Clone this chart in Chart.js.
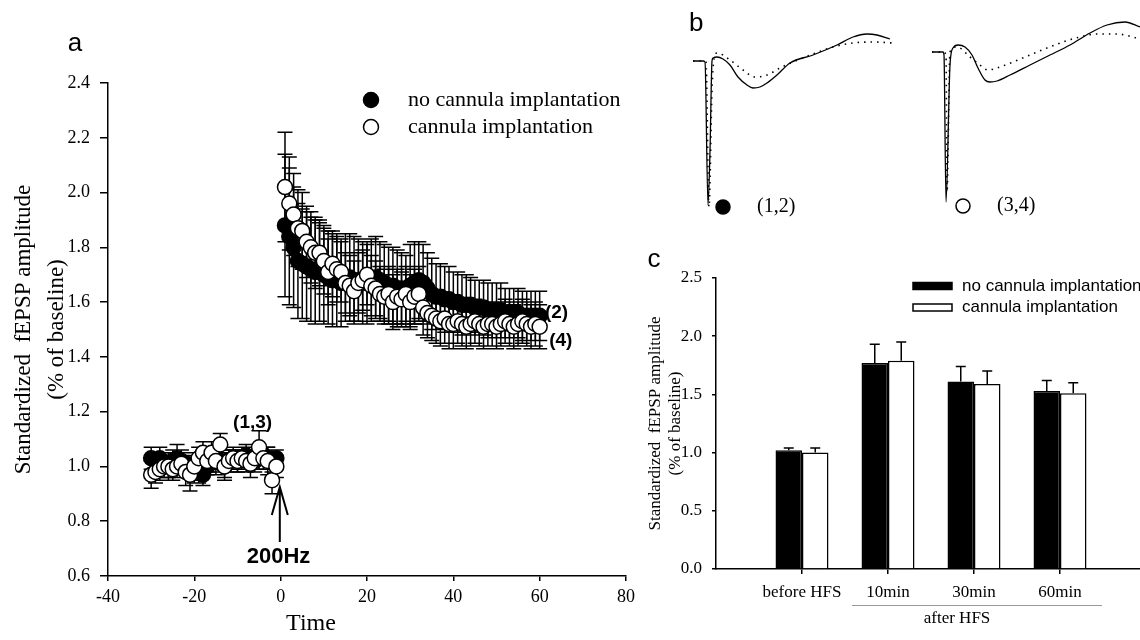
<!DOCTYPE html>
<html>
<head>
<meta charset="utf-8">
<script src="https://cdn.jsdelivr.net/npm/chart.js@4.4.1/dist/chart.umd.min.js"></script>
<style>
  html, body { margin: 0; padding: 0; background: #fff; }
  body { width: 1140px; height: 640px; position: relative; overflow: hidden; }
  canvas { position: absolute; }
  #chartA { left: 0; top: 0; }
  #traceL { left: 680px; top: 0; }
  #traceR { left: 920px; top: 0; }
  #chartC { left: 640px; top: 250px; }
</style>
</head>
<body>
<canvas id="chartA" width="640" height="640"></canvas>
<canvas id="traceL" width="240" height="232"></canvas>
<canvas id="traceR" width="220" height="232"></canvas>
<canvas id="chartC" width="520" height="390"></canvas>
<script>
// ---- panel a : time course (min) ----
const timeBefore = [-30, -29, -28, -27, -26, -25, -24, -23, -22, -21, -20, -19, -18, -17, -16,
  -15, -14, -13, -12, -11, -10, -9, -8, -7, -6, -5, -4, -3, -2, -1];
const timeAfter = [1, 2, 3, 4, 5, 6, 7, 8, 9, 10, 11, 12, 13, 14, 15, 16, 17, 18, 19, 20,
  21, 22, 23, 24, 25, 26, 27, 28, 29, 30, 31, 32, 33, 34, 35, 36, 37, 38, 39, 40,
  41, 42, 43, 44, 45, 46, 47, 48, 49, 50, 51, 52, 53, 54, 55, 56, 57, 58, 59, 60];

const noCannulaBefore = [1.03, 1.02, 1.03, 1.01, 1.00, 1.02, 1.03, 1.02, 1.01, 1.00,
  0.98, 0.99, 0.97, 1.00, 1.02, 1.03, 1.02, 1.00, 1.02, 1.03,
  1.02, 1.03, 1.04, 1.03, 1.02, 1.03, 1.04, 1.03, 1.02, 1.03];
const noCannulaBeforeErr = [0.04, 0.03, 0.04, 0.03, 0.04, 0.04, 0.05, 0.04, 0.03, 0.04,
  0.04, 0.05, 0.04, 0.03, 0.04, 0.04, 0.03, 0.04, 0.04, 0.03,
  0.04, 0.03, 0.04, 0.03, 0.04, 0.04, 0.03, 0.04, 0.04, 0.03];
const cannulaBefore = [0.97, 0.98, 0.99, 1.00, 1.00, 0.99, 1.00, 1.01, 0.98, 0.97,
  1.00, 1.03, 1.05, 1.02, 1.05, 1.02, 1.08, 1.00, 1.02, 1.03,
  1.02, 1.03, 1.02, 1.01, 1.03, 1.07, 1.03, 1.02, 0.95, 1.00];
const cannulaBeforeErr = [0.05, 0.04, 0.04, 0.04, 0.05, 0.04, 0.04, 0.04, 0.05, 0.06,
  0.05, 0.04, 0.04, 0.04, 0.04, 0.05, 0.04, 0.05, 0.04, 0.04,
  0.04, 0.04, 0.04, 0.05, 0.04, 0.06, 0.04, 0.05, 0.05, 0.04];

const noCannulaAfter = [1.88, 1.84, 1.80, 1.75, 1.74, 1.73, 1.72, 1.71, 1.71, 1.70,
  1.69, 1.68, 1.68, 1.67, 1.69, 1.69, 1.68, 1.68, 1.67, 1.67,
  1.68, 1.69, 1.68, 1.67, 1.66, 1.66, 1.65, 1.65, 1.64, 1.66,
  1.67, 1.68, 1.67, 1.65, 1.63, 1.62, 1.62, 1.61, 1.61, 1.60,
  1.60, 1.59, 1.59, 1.59, 1.58, 1.58, 1.58, 1.57, 1.57, 1.57,
  1.57, 1.56, 1.56, 1.56, 1.56, 1.55, 1.55, 1.55, 1.55, 1.55];
const noCannulaAfterErr = [0.26, 0.25, 0.22, 0.21, 0.20, 0.20, 0.19, 0.19, 0.18, 0.18,
  0.17, 0.17, 0.17, 0.16, 0.16, 0.16, 0.16, 0.15, 0.15, 0.15,
  0.15, 0.15, 0.14, 0.14, 0.14, 0.14, 0.14, 0.13, 0.13, 0.15,
  0.15, 0.14, 0.14, 0.13, 0.13, 0.12, 0.12, 0.12, 0.12, 0.11,
  0.11, 0.11, 0.11, 0.10, 0.10, 0.10, 0.10, 0.10, 0.10, 0.10,
  0.10, 0.09, 0.09, 0.09, 0.09, 0.09, 0.09, 0.09, 0.09, 0.09];
const cannulaAfter = [2.02, 1.96, 1.92, 1.87, 1.86, 1.82, 1.80, 1.78, 1.78, 1.75,
  1.71, 1.74, 1.72, 1.71, 1.67, 1.66, 1.64, 1.67, 1.68, 1.70,
  1.66, 1.65, 1.63, 1.62, 1.63, 1.60, 1.62, 1.61, 1.63, 1.60,
  1.62, 1.63, 1.58, 1.56, 1.55, 1.54, 1.53, 1.54, 1.52, 1.52,
  1.53, 1.52, 1.51, 1.52, 1.53, 1.52, 1.51, 1.52, 1.52, 1.51,
  1.52, 1.53, 1.52, 1.51, 1.52, 1.53, 1.52, 1.51, 1.52, 1.51];
const cannulaAfterErr = [0.20, 0.17, 0.15, 0.14, 0.14, 0.13, 0.13, 0.13, 0.12, 0.12,
  0.12, 0.12, 0.12, 0.11, 0.11, 0.11, 0.11, 0.11, 0.11, 0.11,
  0.11, 0.10, 0.10, 0.10, 0.10, 0.10, 0.10, 0.10, 0.10, 0.10,
  0.10, 0.10, 0.10, 0.09, 0.09, 0.09, 0.09, 0.09, 0.09, 0.09,
  0.08, 0.08, 0.08, 0.08, 0.08, 0.08, 0.08, 0.08, 0.08, 0.08,
  0.08, 0.08, 0.08, 0.08, 0.08, 0.08, 0.08, 0.08, 0.08, 0.08];

const xTicksA = [-40, -20, 0, 20, 40, 60, 80];
const yTicksA = [0.6, 0.8, 1.0, 1.2, 1.4, 1.6, 1.8, 2.0, 2.2, 2.4];

// ---- panel b : sample traces (ms, mV) ----
const traceLSolidT = [0, 1.0, 1.2, 1.5, 1.7, 1.9, 2.0, 2.4, 3.0, 3.7, 4.5, 5.4, 6.0, 6.7, 7.4, 8.4, 9.7, 12.0, 14.4, 16.0, 17.4, 18.4, 19.7];
const traceLSolidV = [0, 0, -0.01, -1.44, -0.9, 0.0, 0.03, 0.04, 0.02, -0.04, -0.16, -0.24, -0.27, -0.26, -0.22, -0.14, -0.02, 0.06, 0.16, 0.24, 0.27, 0.26, 0.22];
const traceLDotT = [0, 1.0, 1.3, 1.6, 1.9, 2.1, 2.4, 3.7, 5.0, 6.2, 7.4, 8.7, 10.0, 12.0, 14.0, 16.0, 18.0, 20.0];
const traceLDotV = [0, 0, -0.01, -1.46, -0.3, 0.02, 0.08, 0.01, -0.09, -0.16, -0.14, -0.07, -0.01, 0.07, 0.14, 0.18, 0.19, 0.18];
const traceRSolidT = [0, 1.1, 1.2, 1.4, 1.8, 2.1, 2.6, 3.3, 4.0, 4.6, 5.3, 5.8, 6.5, 7.8, 9.8, 11.8, 13.8, 15.8, 17.5, 19.3, 20.8];
const traceRSolidV = [0, 0, -0.03, -1.5, -0.13, 0.04, 0.07, 0.05, -0.03, -0.16, -0.28, -0.30, -0.29, -0.23, -0.13, -0.03, 0.07, 0.19, 0.27, 0.30, 0.25];
const traceRDotT = [0, 1.1, 1.4, 1.5, 1.8, 2.5, 3.8, 4.8, 5.6, 6.5, 8.1, 9.8, 11.5, 13.1, 14.8, 16.5, 18.5, 20.5];
const traceRDotV = [0, 0, -0.03, -1.4, 0.0, 0.05, -0.05, -0.13, -0.18, -0.16, -0.10, -0.03, 0.04, 0.10, 0.15, 0.18, 0.18, 0.14];

// ---- panel c : bar summary ----
const barLabels = ['', 'before HFS', '10min', '30min', '60min', ''];
const barNoCannula = [null, 1.02, 1.77, 1.61, 1.53, null];
const barNoCannulaErr = [null, 0.02, 0.16, 0.13, 0.09, null];
const barCannula = [null, 1.00, 1.79, 1.59, 1.51, null];
const barCannulaErr = [null, 0.04, 0.16, 0.11, 0.09, null];

const seriesNames = ['no cannula implantation', 'cannula implantation'];

const serif = "'Liberation Serif', 'Times New Roman', serif";
const sans = "'Liberation Sans', Arial, sans-serif";
Chart.defaults.font.family = serif;
Chart.defaults.color = '#000';
Chart.defaults.animation = false;

function zip(xs, ys) {
  return xs.map((x, i) => ({ x: x, y: ys[i] }));
}

// error bars, both ways for scatter (under the points), upward for bars
function drawErrors(chart, index, both) {
  const ds = chart.data.datasets[index];
  if (!ds.errors) return;
  const meta = chart.getDatasetMeta(index);
  const yScale = chart.scales[meta.yAxisID];
  const ctx = chart.ctx;
  const half = ds.capHalf || 5;
  ctx.save();
  ctx.strokeStyle = '#000';
  ctx.lineWidth = 1.5;
  ctx.beginPath();
  meta.data.forEach((el, i) => {
    const d = ds.data[i];
    const err = ds.errors[i];
    if (d === null || err === null) return;
    const v = typeof d === 'object' ? d.y : d;
    const top = yScale.getPixelForValue(v + err);
    const bot = both ? yScale.getPixelForValue(v - err) : el.y;
    ctx.moveTo(el.x, top); ctx.lineTo(el.x, bot);
    ctx.moveTo(el.x - half, top); ctx.lineTo(el.x + half, top);
    if (both) { ctx.moveTo(el.x - half, bot); ctx.lineTo(el.x + half, bot); }
  });
  ctx.stroke();
  ctx.restore();
}

const errorBars = {
  id: 'errorBars',
  beforeDatasetDraw(chart, args) {
    if (chart.config.type !== 'bar') drawErrors(chart, args.index, true);
  },
  afterDatasetDraw(chart, args) {
    if (chart.config.type === 'bar') drawErrors(chart, args.index, false);
  }
};

function label(ctx, text, x, y, font, align) {
  ctx.font = font;
  ctx.textAlign = align || 'center';
  ctx.textBaseline = 'middle';
  ctx.fillStyle = '#000';
  ctx.fillText(text, x, y);
}

// panel a: legend, annotations, x title, panel letter
const panelA = {
  id: 'panelA',
  afterDraw(chart) {
    const ctx = chart.ctx;
    const xs = chart.scales.x, ys = chart.scales.y;
    ctx.save();
    chart.data.datasets.forEach((ds, i) => {
      const y = 100 + i * 27;
      ctx.beginPath();
      ctx.arc(371, y, 7.5, 0, Math.PI * 2);
      ctx.fillStyle = ds.pointBackgroundColor;
      ctx.fill();
      ctx.lineWidth = 1.5;
      ctx.strokeStyle = '#000';
      ctx.stroke();
      label(ctx, ds.label, 408, y, '22px ' + serif, 'left');
    });
    const bold = 'bold 19px ' + sans;
    label(ctx, '(1,3)', xs.getPixelForValue(-6.5), ys.getPixelForValue(1.16), bold);
    label(ctx, '(2)', xs.getPixelForValue(63.9), ys.getPixelForValue(1.56), bold);
    label(ctx, '(4)', xs.getPixelForValue(64.9), ys.getPixelForValue(1.46), bold);
    label(ctx, '200Hz', xs.getPixelForValue(-0.5), ys.getPixelForValue(0.669), 'bold 22px ' + sans);
    // stimulation arrow
    const ax = xs.getPixelForValue(-0.2);
    const tip = ys.getPixelForValue(0.925), base = ys.getPixelForValue(0.724);
    ctx.beginPath();
    ctx.lineWidth = 2;
    ctx.strokeStyle = '#000';
    ctx.moveTo(ax, base); ctx.lineTo(ax, tip);
    ctx.moveTo(ax - 8, tip + 28); ctx.lineTo(ax, tip); ctx.lineTo(ax + 8, tip + 28);
    ctx.stroke();
    label(ctx, 'Time', 311, 624, '24px ' + serif);
    label(ctx, 'a', 75, 44, '26px ' + sans);
    ctx.restore();
  }
};

const axisStyle = { color: '#000', width: 1.5 };

new Chart(document.getElementById('chartA'), {
  type: 'scatter',
  data: {
    datasets: [
      {
        label: seriesNames[0],
        data: zip(timeBefore.concat(timeAfter), noCannulaBefore.concat(noCannulaAfter)),
        errors: noCannulaBeforeErr.concat(noCannulaAfterErr),
        pointRadius: 7.5, pointBorderWidth: 1.5,
        pointBackgroundColor: '#000', pointBorderColor: '#000',
        capHalf: 7.5, order: 2
      },
      {
        label: seriesNames[1],
        data: zip(timeBefore.concat(timeAfter), cannulaBefore.concat(cannulaAfter)),
        errors: cannulaBeforeErr.concat(cannulaAfterErr),
        pointRadius: 7.5, pointBorderWidth: 1.5,
        pointBackgroundColor: '#fff', pointBorderColor: '#000',
        capHalf: 7.5, order: 1
      }
    ]
  },
  options: {
    responsive: false,
    animation: false,
    events: [],
    layout: { padding: { top: 83, right: 14, left: 0, bottom: 0 } },
    plugins: { legend: { display: false }, tooltip: { enabled: false } },
    scales: {
      x: {
        type: 'linear', min: xTicksA[0], max: xTicksA[xTicksA.length - 1],
        afterBuildTicks: s => { s.ticks = xTicksA.map(v => ({ value: v })); },
        ticks: { font: { size: 18 }, padding: 5 },
        grid: { drawOnChartArea: false, tickLength: 5, color: '#000', lineWidth: 1.5 },
        border: axisStyle,
        afterFit: s => { s.height = 64; }
      },
      y: {
        min: yTicksA[0], max: yTicksA[yTicksA.length - 1],
        afterBuildTicks: s => { s.ticks = yTicksA.map(v => ({ value: v })); },
        ticks: { font: { size: 18 }, padding: 10, callback: v => v.toFixed(1) },
        grid: { drawOnChartArea: false, tickLength: 8, color: '#000', lineWidth: 1.5 },
        border: axisStyle,
        title: {
          display: true,
          text: ['Standardized  fEPSP amplitude', '(% of baseline)'],
          font: { size: 23, lineHeight: 1.43 },
          padding: { top: 8, bottom: 0 }
        },
        afterFit: s => { s.width = 108; }
      }
    }
  },
  plugins: [errorBars, panelA]
});

// panel b: marker and pair label under each trace
const traceMarks = {
  id: 'traceMarks',
  afterDraw(chart, args, opts) {
    const ctx = chart.ctx;
    ctx.save();
    ctx.beginPath();
    ctx.arc(43, opts.y, 7, 0, Math.PI * 2);
    ctx.fillStyle = opts.fill;
    ctx.fill();
    ctx.lineWidth = 1.5;
    ctx.strokeStyle = '#000';
    ctx.stroke();
    label(ctx, opts.text, 77, opts.y, '20px ' + serif, 'left');
    if (opts.letter) {
      ctx.font = '26px ' + sans;
      ctx.textAlign = 'left';
      ctx.textBaseline = 'alphabetic';
      ctx.fillText(opts.letter, 9, 31);
    }
    ctx.restore();
  }
};

function traceChart(id, solidT, solidV, dotT, dotV, xMax, yMin, pad, marks) {
  new Chart(document.getElementById(id), {
    type: 'line',
    data: {
      datasets: [
        { data: zip(solidT, solidV), borderColor: '#000', borderWidth: 1.3, pointRadius: 0, cubicInterpolationMode: 'monotone' },
        { data: zip(dotT, dotV), borderColor: '#000', borderWidth: 1.6, borderDash: [1.5, 5], pointRadius: 0, cubicInterpolationMode: 'monotone' }
      ]
    },
    options: {
      responsive: false,
      animation: false,
      events: [],
      layout: { padding: pad },
      plugins: { legend: { display: false }, tooltip: { enabled: false }, traceMarks: marks },
      scales: {
        x: { type: 'linear', min: 0, max: xMax, display: false },
        y: { min: yMin, max: 0.35, display: false }
      }
    },
    plugins: [traceMarks]
  });
}

traceChart('traceL', traceLSolidT, traceLSolidV, traceLDotT, traceLDotV, 20, -1.5,
  { left: 13, right: 27, top: 26, bottom: 21 }, { y: 207, fill: '#000', text: '(1,2)', letter: 'b' });
traceChart('traceR', traceRSolidT, traceRSolidV, traceRDotT, traceRDotV, 20.8, -1.55,
  { left: 12, right: 0, top: 17, bottom: 25 }, { y: 206, fill: '#fff', text: '(3,4)' });

// panel c: legend, "after HFS" bracket, panel letter
const panelC = {
  id: 'panelC',
  afterDraw(chart) {
    const ctx = chart.ctx;
    const xs = chart.scales.x;
    ctx.save();
    chart.data.datasets.forEach((ds, i) => {
      const y = 36 + i * 21.5;
      ctx.fillStyle = ds.backgroundColor;
      ctx.fillRect(273, y - 3.5, 39, 7);
      ctx.lineWidth = 1.5;
      ctx.strokeStyle = '#000';
      ctx.strokeRect(273, y - 3.5, 39, 7);
      label(ctx, ds.label, 322, y, '17px ' + sans, 'left');
    });
    const x0 = xs.getPixelForValue(2) - 36, x1 = xs.getPixelForValue(4) + 42;
    ctx.beginPath();
    ctx.strokeStyle = '#999';
    ctx.lineWidth = 1;
    ctx.moveTo(x0, 355.5); ctx.lineTo(x1, 355.5);
    ctx.stroke();
    label(ctx, 'after HFS', (xs.getPixelForValue(2) + xs.getPixelForValue(3)) / 2 + 26, 369, '17px ' + serif);
    label(ctx, 'c', 14, 10, '26px ' + sans);
    ctx.restore();
  }
};

new Chart(document.getElementById('chartC'), {
  type: 'bar',
  data: {
    labels: barLabels,
    datasets: [
      { label: seriesNames[0], data: barNoCannula, errors: barNoCannulaErr, backgroundColor: '#000', borderColor: '#000', borderWidth: 1.5, capHalf: 5 },
      { label: seriesNames[1], data: barCannula, errors: barCannulaErr, backgroundColor: '#fff', borderColor: '#000', borderWidth: 1.5, capHalf: 5 }
    ]
  },
  options: {
    responsive: false,
    animation: false,
    events: [],
    layout: { padding: { top: 28, right: 14, left: 0, bottom: 0 } },
    datasets: { bar: { categoryPercentage: 0.616, barPercentage: 1 } },
    plugins: { legend: { display: false }, tooltip: { enabled: false } },
    scales: {
      x: {
        offset: false,
        ticks: { autoSkip: false, maxRotation: 0, font: { size: 17 }, padding: 8 },
        grid: {
          offset: false, drawOnChartArea: false, tickLength: 5, lineWidth: 1.5,
          color: c => (c.index === 0 ? 'rgba(0,0,0,0)' : '#000')
        },
        border: axisStyle,
        afterFit: s => { s.height = 71; }
      },
      y: {
        min: 0, max: 2.5,
        ticks: { stepSize: 0.5, font: { size: 17 }, padding: 10, callback: v => v.toFixed(1) },
        grid: { drawOnChartArea: false, tickLength: 4, color: '#000', lineWidth: 1.5 },
        border: axisStyle,
        title: {
          display: true,
          text: ['Standardized  fEPSP amplitude', '(% of baseline)'],
          font: { size: 17, lineHeight: 1.2 },
          padding: { top: 5, bottom: 0 }
        },
        afterFit: s => { s.width = 76; }
      }
    }
  },
  plugins: [errorBars, panelC]
});
</script>
</body>
</html>
